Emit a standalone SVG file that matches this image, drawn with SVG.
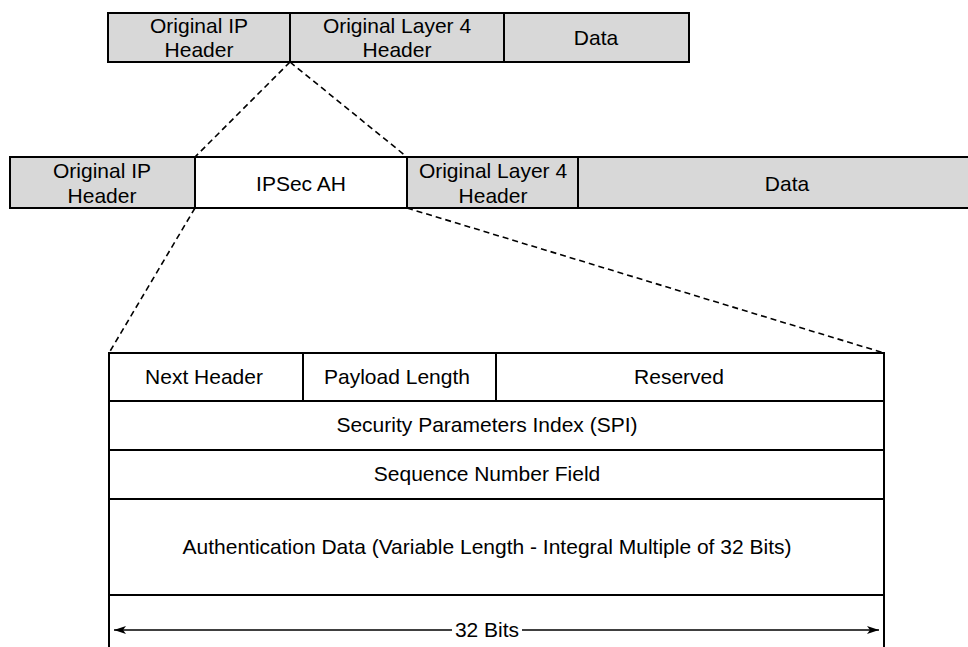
<svg xmlns="http://www.w3.org/2000/svg" width="968" height="647" viewBox="0 0 968 647">
<defs>
<style>
.box{stroke:#000;stroke-width:2;}
.g{fill:#d8d8d8;}
.w{fill:#fff;}
.ln{stroke:#000;stroke-width:2;fill:none;}
.dash{stroke:#000;stroke-width:1.6;stroke-dasharray:6 4;fill:none;}
text{font-family:"Liberation Sans",Arial,Helvetica,sans-serif;font-size:21px;fill:#000;text-anchor:middle;}
</style>
<marker id="ah" viewBox="0 0 12 8" refX="12" refY="4" markerWidth="12" markerHeight="8" markerUnits="userSpaceOnUse" orient="auto-start-reverse">
<path d="M0,0 L12,4 L0,8 L3,4 Z" fill="#000"/>
</marker>
</defs>
<rect width="968" height="647" fill="#fff"/>

<g id="top-packet">
<g id="top-ip"><rect class="box g" x="108" y="13" width="182" height="49"/><text x="199" y="33">Original IP</text><text x="199" y="57">Header</text></g>
<g id="top-l4"><rect class="box g" x="290" y="13" width="214" height="49"/><text x="397" y="33">Original Layer 4</text><text x="397" y="57">Header</text></g>
<g id="top-data"><rect class="box g" x="504" y="13" width="185" height="49"/><text x="596" y="45">Data</text></g>
</g>

<g id="mid-packet">
<g id="mid-ip"><rect class="box g" x="10" y="157" width="185" height="51"/><text x="102" y="178">Original IP</text><text x="102" y="203">Header</text></g>
<g id="mid-ah"><rect class="box w" x="195" y="157" width="212" height="51"/><text x="301" y="191">IPSec AH</text></g>
<g id="mid-l4"><rect class="box g" x="407" y="157" width="171" height="51"/><text x="493" y="178">Original Layer 4</text><text x="493" y="203">Header</text></g>
<g id="mid-data"><rect class="box g" x="578" y="157" width="420" height="51"/><text x="787" y="191">Data</text></g>
</g>

<g id="ah-header">
<g id="next-header"><rect class="box w" x="109" y="353" width="194" height="48"/><text x="204" y="384">Next Header</text></g>
<g id="payload-length"><rect class="box w" x="303" y="353" width="193" height="48"/><text x="397" y="384">Payload Length</text></g>
<g id="reserved"><rect class="box w" x="496" y="353" width="388" height="48"/><text x="679" y="384">Reserved</text></g>
<g id="spi"><rect class="box w" x="109" y="401" width="775" height="49"/><text x="487" y="432">Security Parameters Index (SPI)</text></g>
<g id="seq"><rect class="box w" x="109" y="450" width="775" height="49"/><text x="487" y="481">Sequence Number Field</text></g>
<g id="auth"><rect class="box w" x="109" y="499" width="775" height="96"/><text x="487" y="554">Authentication Data (Variable Length - Integral Multiple of 32 Bits)</text></g>
</g>

<g id="connectors">
<line class="dash" x1="290" y1="62" x2="195" y2="157"/>
<line class="dash" x1="290" y1="62" x2="407" y2="157"/>
<line class="dash" x1="195" y1="208" x2="109" y2="353"/>
<line class="dash" x1="407" y1="208" x2="884" y2="353"/>
</g>

<g id="width-indicator">
<line class="ln" x1="109" y1="595" x2="109" y2="647"/>
<line class="ln" x1="884" y1="595" x2="884" y2="647"/>
<line stroke="#000" stroke-width="1.5" x1="452" y1="630" x2="114" y2="630" marker-end="url(#ah)"/>
<line stroke="#000" stroke-width="1.5" x1="522" y1="630" x2="879" y2="630" marker-end="url(#ah)"/>
<text x="487" y="637">32 Bits</text>
</g>
</svg>
